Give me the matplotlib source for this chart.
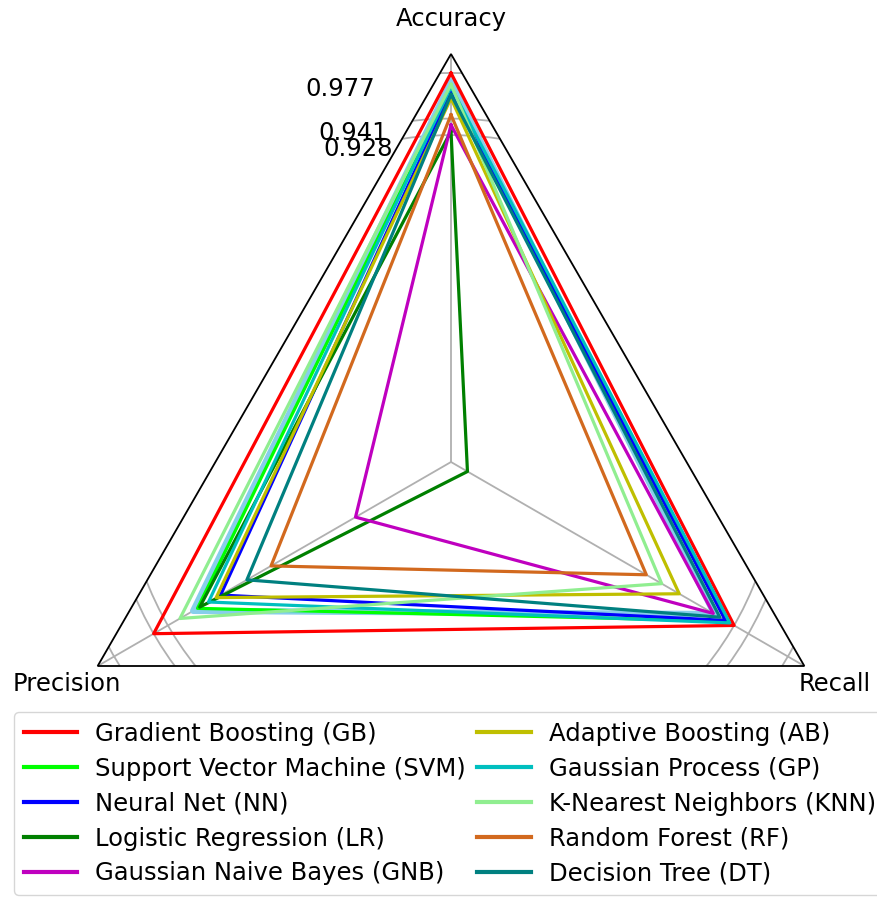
import numpy as np
import matplotlib
matplotlib.use('Agg')
import matplotlib.pyplot as plt
from matplotlib.patches import RegularPolygon
from matplotlib.path import Path
from matplotlib.projections import register_projection
from matplotlib.projections.polar import PolarAxes
from matplotlib.spines import Spine
from matplotlib.transforms import Affine2D

metrics = ['Accuracy', 'Precision', 'Recall']

models = ['Gradient Boosting (GB)', 'Support Vector Machine (SVM)', 'Neural Net (NN)',
          'Logistic Regression (LR)', 'Gaussian Naive Bayes (GNB)',
          'Adaptive Boosting (AB)', 'Gaussian Process (GP)', 'K-Nearest Neighbors (KNN)',
          'Random Forest (RF)', 'Decision Tree (DT)']
colors = ['red', 'lime', 'blue', 'green', 'm', 'y', 'c', 'lightgreen', 'chocolate', 'teal']

# accuracy, precision, recall
gb = [0.977, 0.941, 0.928]
svm = [0.965, 0.901, 0.921]
nn = [0.962, 0.880, 0.920]
lr = [0.931, 0.899, 0.685]
gnb = [0.936, 0.757, 0.909]
ab = [0.957, 0.884, 0.878]
gp = [0.966, 0.891, 0.924]
knn = [0.968, 0.917, 0.862]
rf = [0.944, 0.834, 0.848]
dt = [0.960, 0.856, 0.915]
extra = [0.970, 0.905, 0.910]  # sky blue line, no legend entry

scores = [gb, svm, nn, lr, gnb, ab, gp, knn, rf, dt]
rticks = [0.928, 0.941, 0.977]
rmin, rmax = 0.670, 0.992


def radar_factory(num_vars):
    theta = np.linspace(0, 2 * np.pi, num_vars, endpoint=False)

    class RadarAxes(PolarAxes):
        name = 'radar'

        def __init__(self, *args, **kwargs):
            super().__init__(*args, **kwargs)
            self.set_theta_zero_location('N')

        def _gen_axes_patch(self):
            return RegularPolygon((0.5, 0.5), num_vars, radius=0.5, edgecolor='k')

        def _gen_axes_spines(self):
            spine = Spine(axes=self, spine_type='circle',
                          path=Path.unit_regular_polygon(num_vars))
            spine.set_transform(Affine2D().scale(0.5).translate(0.5, 0.5) + self.transAxes)
            return {'polar': spine}

    register_projection(RadarAxes)
    return theta


theta = radar_factory(len(metrics))
theta_c = np.append(theta, theta[0])

fig = plt.figure(figsize=(8.77, 8.99), dpi=100)
ax = fig.add_axes([43 / 877, 29 / 899, 816 / 877, 816 / 899], projection='radar')

ax.plot(theta_c, extra + extra[:1], color='skyblue', linewidth=4.5)
for name, vals, c in zip(models, scores, colors):
    ax.plot(theta_c, vals + vals[:1], color=c, linewidth=2.3, label=name)

ax.set_ylim(rmin, rmax)
ax.set_rgrids(rticks, labels=['' for t in rticks])
ax.set_thetagrids(np.degrees(theta), ['' for m in metrics])
ax.grid(color='#b0b0b0', linewidth=1.3)
ax.spines['polar'].set_linewidth(1.3)

# radial labels centred on the grid circles, like the original
for t in rticks:
    ax.text(np.radians(16.5), t, str(t), ha='center', va='center', fontsize=17.5)
# axis names just outside the corners
for th, m in zip(theta, metrics):
    ax.text(th, 1.020, m, ha='center', va='center', fontsize=17.5, clip_on=False)

leg = fig.legend(loc='upper left', bbox_to_anchor=(14 / 877, 1 - 712 / 899), ncol=2,
                 fontsize=17.5, handlelength=2.2, handletextpad=0.75, labelspacing=0.45,
                 columnspacing=0.45, borderaxespad=0, frameon=True)
for h in leg.get_lines():
    h.set_linewidth(3)

fig.savefig('out.png', dpi=100)
